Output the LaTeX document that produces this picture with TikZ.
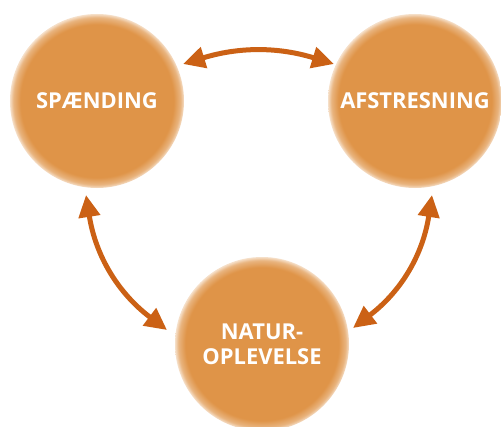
\documentclass[tikz,border=0pt]{standalone}
\usepackage{fontspec}
\setmainfont{Open Sans}
\usetikzlibrary{arrows.meta}
\definecolor{ball}{HTML}{DF9448}
\definecolor{arr}{HTML}{CB6115}
\pgfdeclareradialshading{softball}{\pgfpoint{0bp}{0bp}}{color(0bp)=(ball); color(22bp)=(ball); color(24bp)=(ball!70!white); color(25bp)=(ball!30!white); color(50bp)=(white)}
\tikzset{
  ballnode/.style={circle, minimum size=174bp, inner sep=0pt, shade, shading=softball,
    text=white, font=\bfseries\fontsize{22}{25}\selectfont, align=center},
  dblarrow/.style={draw=arr, line width=5bp, {Triangle[length=22bp,width=21bp]}-{Triangle[length=22bp,width=21bp]}}
}
\begin{document}
\begin{tikzpicture}[x=1bp,y=1bp]
\useasboundingbox (0,0) rectangle (501,426);
\node[ballnode] (s) at (97,325) {SPÆNDING};
\node[ballnode] (a) at (415,325) {AFSTRESNING};
\node[ballnode] (n) at (262,82) {NATUR-\\OPLEVELSE};
\coordinate (sa) at (183,362);
\coordinate (as) at (334,362);
\coordinate (sn) at (86,231);
\coordinate (ns) at (167,96);
\coordinate (an) at (432,231);
\coordinate (na) at (353,98);
\draw[dblarrow] (sa) to[bend left=17] (as);
\draw[dblarrow] (sn) to[bend right=22] (ns);
\draw[dblarrow] (an) to[bend left=22] (na);
\end{tikzpicture}
\end{document}
